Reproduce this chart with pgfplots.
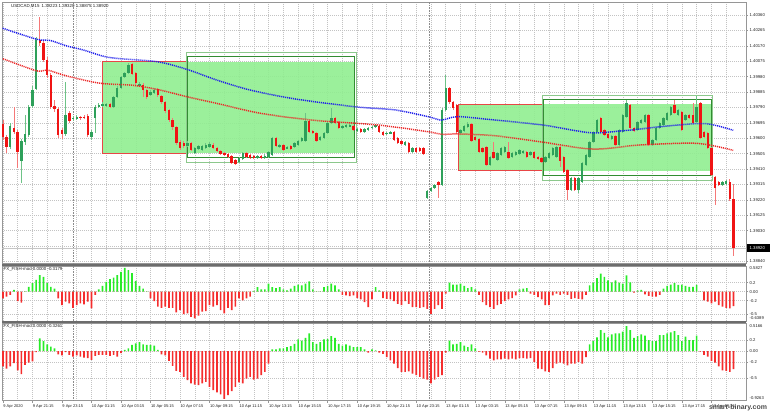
\documentclass[border=0pt]{standalone}
\usepackage{pgfplots}
\pgfplotsset{compat=1.18}
\usepackage{pgfplotstable}
\usepackage{fontspec}
\setmainfont{Liberation Sans}

\definecolor{candlegreen}{RGB}{46,160,90}
\definecolor{candlered}{RGB}{240,20,20}
\definecolor{wickgreen}{RGB}{110,195,135}
\definecolor{wickred}{RGB}{245,120,120}
\definecolor{boxfill}{RGB}{144,238,144}
\definecolor{boxred}{RGB}{232,70,70}
\definecolor{boxdark}{RGB}{50,140,50}
\definecolor{boxlight}{RGB}{140,200,140}
\definecolor{mablue}{RGB}{30,30,235}
\definecolor{mared}{RGB}{235,40,40}
\definecolor{histgreen}{RGB}{40,235,40}
\definecolor{histred}{RGB}{245,45,45}
\definecolor{gridc}{RGB}{195,195,195}
\definecolor{framec}{RGB}{150,150,150}
\definecolor{labelc}{RGB}{30,30,30}

% USDCAD M15 candles: bar index, open, high, low, close
\pgfplotstableread{
i o h l c
0 1.39688 1.39712 1.39589 1.39607
1 1.39607 1.39620 1.39509 1.39546
2 1.39546 1.39694 1.39533 1.39675
3 1.39663 1.39792 1.39626 1.39638
4 1.39638 1.39651 1.39416 1.39515
5 1.39459 1.39595 1.39324 1.39583
6 1.39577 1.39743 1.39558 1.39626
7 1.39620 1.39805 1.39607 1.39792
8 1.39799 1.39922 1.39786 1.39897
9 1.39904 1.40224 1.39897 1.40206
10 1.40206 1.40348 1.40169 1.40187
11 1.40187 1.40200 1.40070 1.40082
12 1.40082 1.40101 1.39971 1.39990
13 1.39990 1.40002 1.39780 1.39792
14 1.39799 1.39836 1.39762 1.39780
15 1.39780 1.39792 1.39601 1.39620
16 1.39651 1.39663 1.39595 1.39626
17 1.39626 1.39947 1.39614 1.39743
18 1.39755 1.39768 1.39694 1.39706
19 1.39718 1.39737 1.39706 1.39725
20 1.39718 1.39743 1.39712 1.39731
21 1.39731 1.39737 1.39712 1.39725
22 1.39731 1.39743 1.39718 1.39725
23 1.39737 1.39749 1.39607 1.39620
24 1.39607 1.39651 1.39589 1.39638
25 1.39725 1.39805 1.39632 1.39792
26 1.39792 1.39817 1.39786 1.39805
27 1.39799 1.39823 1.39792 1.39811
28 1.39799 1.39817 1.39792 1.39811
29 1.39811 1.39817 1.39786 1.39792
30 1.39792 1.39860 1.39786 1.39854
31 1.39854 1.39922 1.39848 1.39910
32 1.39910 1.39984 1.39904 1.39978
33 1.39978 1.40008 1.39971 1.40002
34 1.40002 1.40064 1.39996 1.40052
35 1.40058 1.40064 1.39990 1.39996
36 1.40002 1.40008 1.39928 1.39941
37 1.39928 1.39947 1.39916 1.39934
38 1.39928 1.39941 1.39854 1.39897
39 1.39897 1.39904 1.39842 1.39854
40 1.39866 1.39897 1.39860 1.39885
41 1.39879 1.39910 1.39873 1.39897
42 1.39904 1.39910 1.39854 1.39866
43 1.39860 1.39866 1.39811 1.39823
44 1.39823 1.39829 1.39755 1.39768
45 1.39774 1.39780 1.39700 1.39712
46 1.39712 1.39725 1.39651 1.39669
47 1.39669 1.39675 1.39558 1.39570
48 1.39577 1.39589 1.39527 1.39539
49 1.39570 1.39583 1.39539 1.39552
50 1.39552 1.39583 1.39546 1.39570
51 1.39570 1.39577 1.39521 1.39527
52 1.39509 1.39546 1.39503 1.39539
53 1.39533 1.39558 1.39527 1.39552
54 1.39527 1.39558 1.39521 1.39552
55 1.39539 1.39570 1.39533 1.39558
56 1.39546 1.39577 1.39539 1.39564
57 1.39558 1.39570 1.39533 1.39539
58 1.39539 1.39546 1.39515 1.39521
59 1.39521 1.39527 1.39496 1.39503
60 1.39509 1.39515 1.39490 1.39496
61 1.39503 1.39509 1.39478 1.39484
62 1.39490 1.39496 1.39441 1.39447
63 1.39466 1.39472 1.39435 1.39441
64 1.39453 1.39484 1.39447 1.39478
65 1.39472 1.39515 1.39466 1.39509
66 1.39509 1.39515 1.39478 1.39484
67 1.39496 1.39503 1.39472 1.39478
68 1.39490 1.39496 1.39472 1.39478
69 1.39478 1.39496 1.39472 1.39490
70 1.39490 1.39496 1.39472 1.39478
71 1.39478 1.39503 1.39472 1.39490
72 1.39484 1.39521 1.39478 1.39515
73 1.39496 1.39607 1.39490 1.39601
74 1.39601 1.39607 1.39546 1.39552
75 1.39546 1.39564 1.39539 1.39558
76 1.39558 1.39564 1.39521 1.39527
77 1.39539 1.39552 1.39533 1.39546
78 1.39552 1.39558 1.39527 1.39533
79 1.39546 1.39577 1.39539 1.39570
80 1.39558 1.39589 1.39552 1.39583
81 1.39583 1.39607 1.39577 1.39601
82 1.39583 1.39755 1.39577 1.39706
83 1.39706 1.39712 1.39632 1.39638
84 1.39644 1.39651 1.39626 1.39632
85 1.39632 1.39638 1.39577 1.39583
86 1.39589 1.39614 1.39583 1.39607
87 1.39601 1.39638 1.39595 1.39632
88 1.39632 1.39700 1.39626 1.39694
89 1.39694 1.39786 1.39688 1.39725
90 1.39725 1.39731 1.39688 1.39694
91 1.39700 1.39706 1.39657 1.39663
92 1.39663 1.39681 1.39657 1.39675
93 1.39669 1.39688 1.39663 1.39681
94 1.39675 1.39688 1.39669 1.39681
95 1.39675 1.39681 1.39644 1.39651
96 1.39644 1.39663 1.39638 1.39657
97 1.39657 1.39663 1.39632 1.39638
98 1.39638 1.39663 1.39632 1.39657
99 1.39651 1.39669 1.39644 1.39663
100 1.39663 1.39675 1.39657 1.39669
101 1.39669 1.39688 1.39663 1.39681
102 1.39675 1.39681 1.39632 1.39638
103 1.39638 1.39644 1.39614 1.39620
104 1.39626 1.39638 1.39620 1.39632
105 1.39632 1.39644 1.39626 1.39638
106 1.39638 1.39644 1.39583 1.39589
107 1.39601 1.39607 1.39564 1.39570
108 1.39583 1.39589 1.39558 1.39564
109 1.39558 1.39583 1.39552 1.39577
110 1.39570 1.39577 1.39509 1.39515
111 1.39515 1.39546 1.39509 1.39539
112 1.39539 1.39546 1.39509 1.39515
113 1.39539 1.39546 1.39515 1.39521
114 1.39539 1.39546 1.39496 1.39503
115 1.39231 1.39280 1.39225 1.39274
116 1.39274 1.39299 1.39268 1.39293
117 1.39293 1.39317 1.39287 1.39311
118 1.39330 1.39336 1.39231 1.39311
119 1.39311 1.39786 1.39305 1.39774
120 1.39774 1.39990 1.39768 1.39910
121 1.39910 1.39916 1.39811 1.39823
122 1.39823 1.39829 1.39774 1.39786
123 1.39805 1.39811 1.39626 1.39638
124 1.39632 1.39657 1.39626 1.39651
125 1.39644 1.39681 1.39638 1.39675
126 1.39669 1.39700 1.39663 1.39688
127 1.39688 1.39694 1.39577 1.39583
128 1.39607 1.39614 1.39583 1.39589
129 1.39595 1.39601 1.39509 1.39515
130 1.39539 1.39546 1.39509 1.39515
131 1.39546 1.39552 1.39428 1.39435
132 1.39435 1.39490 1.39428 1.39484
133 1.39515 1.39577 1.39472 1.39478
134 1.39466 1.39515 1.39459 1.39509
135 1.39496 1.39546 1.39490 1.39539
136 1.39515 1.39552 1.39509 1.39546
137 1.39515 1.39577 1.39472 1.39478
138 1.39484 1.39515 1.39478 1.39509
139 1.39496 1.39521 1.39490 1.39515
140 1.39503 1.39533 1.39496 1.39527
141 1.39509 1.39527 1.39503 1.39521
142 1.39515 1.39521 1.39478 1.39484
143 1.39496 1.39521 1.39490 1.39515
144 1.39515 1.39521 1.39472 1.39478
145 1.39484 1.39490 1.39466 1.39472
146 1.39478 1.39484 1.39447 1.39453
147 1.39453 1.39490 1.39447 1.39484
148 1.39478 1.39515 1.39472 1.39509
149 1.39496 1.39546 1.39490 1.39539
150 1.39484 1.39552 1.39478 1.39546
151 1.39546 1.39552 1.39422 1.39459
152 1.39484 1.39490 1.39385 1.39391
153 1.39404 1.39410 1.39219 1.39280
154 1.39280 1.39361 1.39274 1.39354
155 1.39354 1.39361 1.39274 1.39280
156 1.39280 1.39361 1.39262 1.39354
157 1.39330 1.39453 1.39324 1.39447
158 1.39435 1.39503 1.39428 1.39496
159 1.39484 1.39583 1.39478 1.39577
160 1.39577 1.39644 1.39570 1.39638
161 1.39638 1.39718 1.39632 1.39712
162 1.39725 1.39731 1.39632 1.39638
163 1.39651 1.39657 1.39614 1.39620
164 1.39626 1.39632 1.39595 1.39601
165 1.39595 1.39620 1.39589 1.39614
166 1.39614 1.39620 1.39552 1.39558
167 1.39558 1.39657 1.39552 1.39651
168 1.39638 1.39749 1.39632 1.39743
169 1.39731 1.39836 1.39725 1.39817
170 1.39805 1.39811 1.39657 1.39663
171 1.39663 1.39669 1.39638 1.39644
172 1.39651 1.39706 1.39644 1.39700
173 1.39694 1.39718 1.39688 1.39712
174 1.39700 1.39749 1.39694 1.39743
175 1.39743 1.39749 1.39552 1.39558
176 1.39558 1.39595 1.39552 1.39589
177 1.39589 1.39669 1.39583 1.39663
178 1.39663 1.39700 1.39657 1.39694
179 1.39681 1.39731 1.39675 1.39725
180 1.39712 1.39762 1.39706 1.39755
181 1.39743 1.39799 1.39737 1.39792
182 1.39805 1.39836 1.39749 1.39755
183 1.39743 1.39780 1.39737 1.39774
184 1.39762 1.39768 1.39644 1.39651
185 1.39712 1.39749 1.39706 1.39743
186 1.39743 1.39749 1.39718 1.39725
187 1.39743 1.39817 1.39688 1.39694
188 1.39700 1.39860 1.39694 1.39792
189 1.39817 1.39823 1.39595 1.39601
190 1.39638 1.39644 1.39601 1.39607
191 1.39632 1.39638 1.39533 1.39539
192 1.39539 1.39546 1.39367 1.39373
193 1.39361 1.39367 1.39188 1.39293
194 1.39330 1.39336 1.39305 1.39311
195 1.39311 1.39336 1.39305 1.39330
196 1.39317 1.39342 1.39311 1.39336
197 1.39330 1.39348 1.39213 1.39225
198 1.39223 1.39320 1.38875 1.38920
}\ohlc

% FX_FISH-mod histograms: a = upper window, b = lower window
\pgfplotstableread{
i a b
0 -0.15 -0.28
1 -0.11 -0.32
2 -0.07 -0.28
3 0.04 -0.22
4 -0.21 -0.35
5 -0.24 -0.42
6 0.01 -0.25
7 0.11 -0.21
8 0.19 -0.19
9 0.26 -0.02
10 0.37 0.23
11 0.33 0.18
12 0.19 0.12
13 0.11 0.08
14 0.07 0.05
15 -0.15 -0.06
16 -0.30 -0.08
17 -0.22 -0.02
18 -0.26 -0.07
19 -0.36 -0.10
20 -0.30 -0.08
21 -0.26 -0.10
22 -0.28 -0.12
23 -0.22 -0.13
24 -0.37 -0.16
25 -0.07 -0.09
26 0.05 -0.07
27 0.13 -0.07
28 0.22 -0.07
29 0.28 -0.09
30 0.31 -0.07
31 0.37 -0.10
32 0.44 -0.04
33 0.53 0.02
34 0.48 0.05
35 0.41 0.11
36 0.24 0.14
37 0.13 0.16
38 0.07 0.12
39 0.01 0.11
40 -0.15 0.11
41 -0.21 0.10
42 -0.33 0.02
43 -0.36 -0.06
44 -0.33 -0.08
45 -0.36 -0.18
46 -0.36 -0.27
47 -0.46 -0.36
48 -0.41 -0.38
49 -0.50 -0.47
50 -0.48 -0.53
51 -0.56 -0.59
52 -0.59 -0.61
53 -0.53 -0.62
54 -0.44 -0.59
55 -0.43 -0.56
56 -0.30 -0.65
57 -0.33 -0.71
58 -0.30 -0.75
59 -0.41 -0.79
60 -0.48 -0.87
61 -0.36 -0.80
62 -0.41 -0.73
63 -0.33 -0.65
64 -0.15 -0.57
65 -0.19 -0.59
66 -0.15 -0.50
67 -0.11 -0.47
68 0.02 -0.52
69 0.10 -0.50
70 0.05 -0.44
71 0.05 -0.38
72 0.18 -0.23
73 0.10 0.03
74 0.08 0.03
75 0.10 0.05
76 0.05 0.05
77 0.03 0.07
78 0.07 0.09
79 0.13 0.13
80 0.16 0.21
81 0.14 0.19
82 0.18 0.24
83 0.23 0.32
84 0.05 0.16
85 0.01 0.13
86 0.01 0.16
87 0.10 0.21
88 0.13 0.22
89 0.18 0.27
90 0.14 0.24
91 0.05 0.13
92 -0.07 0.10
93 -0.08 0.12
94 -0.10 0.10
95 -0.08 0.07
96 -0.14 0.07
97 -0.17 0.07
98 -0.23 0.03
99 -0.34 -0.03
100 -0.17 0.03
101 0.10 0.01
102 0.03 -0.03
103 -0.14 -0.05
104 -0.16 -0.11
105 -0.17 -0.17
106 -0.21 -0.23
107 -0.27 -0.31
108 -0.30 -0.38
109 -0.21 -0.38
110 -0.27 -0.37
111 -0.34 -0.41
112 -0.34 -0.44
113 -0.36 -0.47
114 -0.34 -0.50
115 -0.38 -0.52
116 -0.49 -0.59
117 -0.38 -0.52
118 -0.30 -0.47
119 -0.38 -0.44
120 -0.04 -0.03
121 0.20 0.19
122 0.16 0.12
123 0.16 0.13
124 0.18 0.16
125 0.13 0.10
126 0.08 0.07
127 0.10 0.12
128 0.05 0.05
129 -0.07 -0.01
130 -0.23 -0.03
131 -0.30 -0.08
132 -0.34 -0.14
133 -0.38 -0.17
134 -0.30 -0.15
135 -0.27 -0.15
136 -0.21 -0.14
137 -0.17 -0.15
138 -0.14 -0.14
139 -0.08 -0.15
140 0.05 -0.13
141 0.07 -0.13
142 0.08 -0.14
143 -0.04 -0.13
144 -0.07 -0.20
145 -0.12 -0.32
146 -0.17 -0.33
147 -0.30 -0.37
148 -0.30 -0.38
149 -0.08 -0.31
150 -0.04 -0.23
151 -0.07 -0.21
152 -0.04 -0.23
153 -0.07 -0.26
154 -0.16 -0.23
155 -0.14 -0.23
156 -0.16 -0.20
157 -0.17 -0.23
158 -0.07 -0.11
159 0.14 0.12
160 0.20 0.18
161 0.30 0.25
162 0.40 0.38
163 0.33 0.33
164 0.25 0.25
165 0.21 0.30
166 0.25 0.32
167 0.20 0.32
168 0.18 0.35
169 0.36 0.45
170 0.21 0.38
171 -0.02 0.24
172 0.03 0.27
173 0.04 0.30
174 -0.06 0.28
175 -0.09 0.20
176 -0.11 0.18
177 -0.11 0.18
178 -0.07 0.29
179 0.07 0.29
180 0.13 0.32
181 0.16 0.34
182 0.19 0.36
183 0.15 0.29
184 0.16 0.18
185 0.13 0.26
186 0.11 0.20
187 0.11 0.20
188 0.15 0.28
189 0.01 -0.01
190 -0.19 -0.07
191 -0.22 -0.10
192 -0.26 -0.18
193 -0.22 -0.21
194 -0.30 -0.28
195 -0.33 -0.35
196 -0.36 -0.36
197 -0.37 -0.38
198 -0.32 -0.33
}\fish

\pgfplotsset{
  mtpane/.style={
    scale only axis, width=744bp, xmin=-0.244, xmax=201.38,
    axis line style={framec, line width=0.6bp},
    xtick={0,8,...,192}, minor xtick={4,12,...,196},
    xmajorgrids, xminorgrids, ymajorgrids,
    major grid style={gridc, dash pattern=on 1bp off 1bp, line width=0.45bp},
    minor grid style={gridc, dash pattern=on 1bp off 1bp, line width=0.45bp},
    xticklabels={},
    tick style={framec, line width=0.5bp},
    major tick length=2bp, minor tick length=0bp, tick align=outside,
    xtick pos=left, ytick pos=right, yticklabel pos=right,
    yticklabel style={font=\fontsize{4.2}{5}\selectfont, text=labelc, anchor=west, inner sep=0pt, xshift=1.5bp},
    extra x ticks={19.1,115.5}, extra x tick labels={},
    extra x tick style={major tick length=0bp, xmajorgrids=true,
      major grid style={gray!90, dash pattern=on 0.8bp off 0.8bp, line width=0.6bp}},
  },
  wick/.style={draw=none, mark=none, error bars/y dir=both, error bars/y explicit,
    error bars/error mark=none, error bars/error bar style={draw=#1, line width=0.8bp}},
  body/.style={draw=none, mark=none, error bars/y dir=both, error bars/y explicit,
    error bars/error mark=none, error bars/error bar style={draw=#1, line width=2.4bp}},
  hist/.style={ybar, bar width=1.7bp, bar shift=0pt, fill=#1, draw=none},
  ma/.style={#1, line width=1.5bp, dash pattern=on 1.1bp off 0.9bp, smooth},
}

\begin{document}
\begin{tikzpicture}[x=1bp,y=1bp]
\path[use as bounding box] (0,0) rectangle (770,413);

% ---------- price window ----------
\begin{axis}[mtpane, at={(2bp,149.5bp)}, anchor=south west, height=261.5bp,
  ymin=1.38827, ymax=1.40440, xtick style={draw=none},
  ytick={1.38840,1.38935,1.39030,1.39125,1.39220,1.39315,1.39410,1.39505,1.39600,1.39695,1.39790,1.39885,1.39980,1.40075,1.40170,1.40265,1.40360},
  yticklabels={1.38840,,1.39030,1.39125,1.39220,1.39315,1.39410,1.39505,1.39600,1.39695,1.39790,1.39885,1.39980,1.40075,1.40170,1.40265,1.40360}]
  % zones
  \fill[boxfill, fill opacity=0.9] (axis cs:27.05,1.39507) rectangle (axis cs:95.4,1.40072);
  \draw[boxred, line width=0.9bp] (axis cs:27.05,1.39507) rectangle (axis cs:50.1,1.40072);
  \draw[boxlight, line width=0.9bp] (axis cs:49.8,1.39453) rectangle (axis cs:95.7,1.40130);
  \draw[boxdark, line width=1bp] (axis cs:50.1,1.39480) rectangle (axis cs:95.4,1.40102);
  \fill[boxfill, fill opacity=0.9] (axis cs:123.4,1.39396) rectangle (axis cs:192.1,1.39813);
  \draw[boxred, line width=0.9bp] (axis cs:123.4,1.39400) rectangle (axis cs:146.6,1.39811);
  \draw[boxlight, line width=0.9bp] (axis cs:146.3,1.39342) rectangle (axis cs:192.4,1.39866);
  \draw[boxdark, line width=1bp] (axis cs:146.6,1.39369) rectangle (axis cs:192.1,1.39840);
  % bid line
  \draw[gray!45, line width=0.5bp] (axis cs:-1,1.38920) -- (axis cs:202,1.38920);
  % candles
  \addplot[wick=wickgreen] table[x=i, y expr={\thisrow{c}>=\thisrow{o} ? 0.5*(\thisrow{h}+\thisrow{l}) : nan}, y error expr={0.5*(\thisrow{h}-\thisrow{l})}] {\ohlc};
  \addplot[wick=wickred] table[x=i, y expr={\thisrow{c}<\thisrow{o} ? 0.5*(\thisrow{h}+\thisrow{l}) : nan}, y error expr={0.5*(\thisrow{h}-\thisrow{l})}] {\ohlc};
  \addplot[body=candlegreen] table[x=i, y expr={\thisrow{c}>=\thisrow{o} ? 0.5*(\thisrow{o}+\thisrow{c}) : nan}, y error expr={max(0.5*abs(\thisrow{c}-\thisrow{o}),0.00002)}] {\ohlc};
  \addplot[body=candlered] table[x=i, y expr={\thisrow{c}<\thisrow{o} ? 0.5*(\thisrow{o}+\thisrow{c}) : nan}, y error expr={max(0.5*abs(\thisrow{c}-\thisrow{o}),0.00002)}] {\ohlc};
  % moving averages
  \addplot[ma=mablue] coordinates {
    (-0.05,1.40278) (9.2,1.40210) (12.8,1.40203) (17.3,1.40169) (21.8,1.40144) (29.0,1.40097)
    (41.7,1.40072) (49.8,1.40025) (57.9,1.39959) (67,1.39897) (79.2,1.39842) (95.4,1.39794)
    (106.3,1.39774) (115.2,1.39733) (118.9,1.39712) (123.3,1.39733) (133.3,1.39712)
    (146.4,1.39681) (159.1,1.39634) (168.1,1.39646) (182.7,1.39681) (190.8,1.39689) (197.9,1.39649)};
  \addplot[ma=mared] coordinates {
    (0,1.40090) (9.2,1.40015) (11.9,1.40021) (17.3,1.39984) (26.3,1.39939) (35.3,1.39926)
    (42.6,1.39897) (49.8,1.39856) (57.9,1.39815) (69.7,1.39754) (83.7,1.39712) (101.7,1.39681)
    (115.2,1.39640) (118.9,1.39624) (123.3,1.39626) (133.3,1.39615) (145.6,1.39578)
    (159.9,1.39533) (172.7,1.39558) (188.1,1.39568) (197.9,1.39525)};
\end{axis}

% ---------- first FX_FISH window ----------
\begin{axis}[mtpane, at={(2bp,92bp)}, anchor=south west, height=55bp,
  ymin=-0.651, ymax=0.571, xtick style={draw=none},
  ytick={-0.5,-0.2,0,0.2}, yticklabels={-0.5,-0.2,0.00,0.2}]
  \addplot[hist=histgreen] table[x=i, y expr={max(\thisrow{a},0)}] {\fish};
  \addplot[hist=histred] table[x=i, y expr={min(\thisrow{a},0)}] {\fish};
\end{axis}

% ---------- second FX_FISH window ----------
\begin{axis}[mtpane, at={(2bp,12.5bp)}, anchor=south west, height=77.5bp,
  ymin=-0.900, ymax=0.509,
  ytick={-0.5,-0.2,0,0.2}, yticklabels={-0.5,-0.2,0.00,0.2},
  xticklabels={9 Apr 2020,9 Apr 21:15,9 Apr 23:15,10 Apr 01:15,10 Apr 03:15,10 Apr 05:15,10 Apr 07:15,10 Apr 09:15,10 Apr 11:15,10 Apr 13:15,10 Apr 15:15,10 Apr 17:15,10 Apr 19:15,10 Apr 21:15,10 Apr 23:15,13 Apr 01:15,13 Apr 03:15,13 Apr 05:15,13 Apr 07:15,13 Apr 09:15,13 Apr 11:15,13 Apr 13:15,13 Apr 15:15,13 Apr 17:15,13 Apr 19:15},
  xticklabel style={font=\fontsize{4}{5}\selectfont, text=labelc, anchor=north west, inner sep=0pt, yshift=-2.2bp, xshift=0.3bp}]
  \addplot[hist=histgreen] table[x=i, y expr={max(\thisrow{b},0)}] {\fish};
  \addplot[hist=histred] table[x=i, y expr={min(\thisrow{b},0)}] {\fish};
\end{axis}

% window separators
\draw[gray!85!black, line width=1.6bp] (2,148.2) -- (746,148.2);
\draw[gray!85!black, line width=1.6bp] (2,91) -- (746,91);

% texts
\node[anchor=west, inner sep=0pt, text=labelc, font=\fontsize{4.4}{5}\selectfont] at (11,407) {USDCAD,M15\enspace 1.39223 1.39320 1.38875 1.38920};
\node[anchor=west, inner sep=0pt, text=labelc, font=\fontsize{4.4}{5}\selectfont] at (3.5,144) {FX\_FISH-mod 0.0000 -0.3179};
\node[anchor=west, inner sep=0pt, text=labelc, font=\fontsize{4.4}{5}\selectfont] at (3.5,87) {FX\_FISH-mod 0.0000 -0.3261};
\node[anchor=west, inner sep=0pt, text=labelc, font=\fontsize{4.2}{5}\selectfont] at (749.5,145) {0.5827};
\node[anchor=west, inner sep=0pt, text=labelc, font=\fontsize{4.2}{5}\selectfont] at (749.5,94.5) {-0.6389};
\node[anchor=west, inner sep=0pt, text=labelc, font=\fontsize{4.2}{5}\selectfont] at (749.5,87.3) {0.5166};
\node[anchor=west, inner sep=0pt, text=labelc, font=\fontsize{4.2}{5}\selectfont] at (749.5,15) {-0.9263};
% bid price box
\fill[black] (746.5,161) rectangle (770,169.5);
\node[anchor=west, inner sep=0pt, text=white, font=\fontsize{4.2}{5}\selectfont] at (749.5,165.2) {1.38920};
% watermark
\node[inner sep=0pt, text=black!70, font=\bfseries\fontsize{7}{8}\selectfont] at (738,5.5) {smart-binary.com};
\end{tikzpicture}
\end{document}
